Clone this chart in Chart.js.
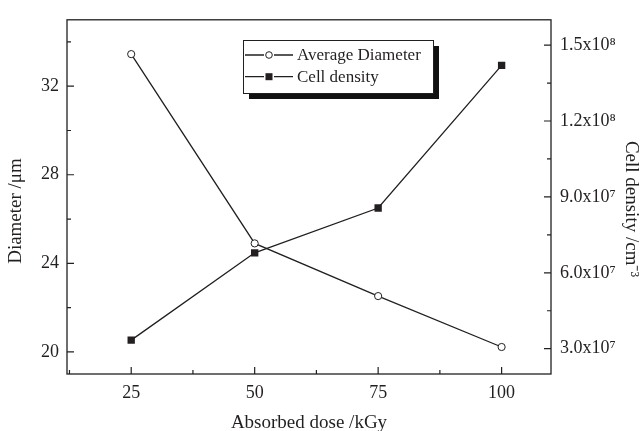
<!DOCTYPE html>
<html>
<head>
<meta charset="utf-8">
<script src="https://cdn.jsdelivr.net/npm/chart.js@4"></script>
<style>
  body { margin: 0; background: #fff; }
</style>
</head>
<body>
<canvas id="chart" width="643" height="431"></canvas>
<script>
// values
const doses = [25, 50, 75, 100];
const diameter = [33.45, 24.9, 22.52, 20.22];
const cellDensity = [3.34e7, 6.79e7, 8.56e7, 1.42e8];

// labelled ticks
const xTicks = [25, 50, 75, 100];
const leftTicks = [20, 24, 28, 32];
const rightTicks = [3e7, 6e7, 9e7, 1.2e8, 1.5e8];
const rightTickLabels = ["3.0x10⁷", "6.0x10⁷", "9.0x10⁷", "1.2x10⁸", "1.5x10⁸"];

const ink = "#231f20";
const serif = "'Liberation Serif', 'Times New Roman', serif";

Chart.defaults.font.family = serif;
Chart.defaults.font.size = 18;
Chart.defaults.color = ink;

// labelled ticks plus a minor tick halfway between each
function withMinor(major, min, max) {
  const step = major[1] - major[0];
  let out = [];
  for (let v = major[0] - step / 2; v <= major[major.length - 1] + step / 2 + 1e-9; v += step / 2) {
    if (v >= min && v <= max) out.push(v);
  }
  return out;
}

function isMajor(list, v) {
  return list.some((m) => Math.abs(m - v) < Math.abs(m) * 1e-6 + 1e-9);
}

// box round the plot, inward ticks
const framePlugin = {
  id: "frame",
  afterDatasetsDraw(chart) {
    const { ctx, chartArea: a } = chart;
    ctx.save();
    ctx.strokeStyle = ink;
    ctx.lineWidth = 1.3;
    ctx.strokeRect(a.left, a.top, a.right - a.left, a.bottom - a.top);

    ctx.lineWidth = 1.2;
    ctx.beginPath();
    chart.scales.x.ticks.forEach((t) => {
      const px = chart.scales.x.getPixelForValue(t.value);
      const len = isMajor(xTicks, t.value) ? 7 : 4;
      ctx.moveTo(px, a.bottom);
      ctx.lineTo(px, a.bottom - len);
    });
    chart.scales.y.ticks.forEach((t) => {
      const py = chart.scales.y.getPixelForValue(t.value);
      const len = isMajor(leftTicks, t.value) ? 7 : 4;
      ctx.moveTo(a.left, py);
      ctx.lineTo(a.left + len, py);
    });
    chart.scales.y1.ticks.forEach((t) => {
      const py = chart.scales.y1.getPixelForValue(t.value);
      const len = isMajor(rightTicks, t.value) ? 7 : 4;
      ctx.moveTo(a.right, py);
      ctx.lineTo(a.right - len, py);
    });
    ctx.stroke();
    ctx.restore();
  },
};

// axis titles
const titlePlugin = {
  id: "titles",
  afterDraw(chart) {
    const { ctx, chartArea: a } = chart;
    ctx.save();
    ctx.fillStyle = ink;
    ctx.font = "19px " + serif;
    ctx.textAlign = "center";
    ctx.textBaseline = "middle";
    ctx.fillText("Absorbed dose /kGy", (a.left + a.right) / 2, 423);

    ctx.translate(16, 211);
    ctx.rotate(-Math.PI / 2);
    ctx.fillText("Diameter /μm", 0, 0);
    ctx.restore();

    ctx.save();
    ctx.fillStyle = ink;
    ctx.font = "19px " + serif;
    ctx.textAlign = "center";
    ctx.textBaseline = "middle";
    ctx.translate(631, 209);
    ctx.rotate(Math.PI / 2);
    ctx.fillText("Cell density /cm⁻³", 0, 0);
    ctx.restore();
  },
};

// legend box with a drop shadow
const legendPlugin = {
  id: "boxLegend",
  afterDraw(chart) {
    const { ctx } = chart;
    const x = 243, y = 40, w = 190, h = 53;
    ctx.save();
    ctx.fillStyle = "#111";
    ctx.fillRect(x + 6, y + 6, w, h);
    ctx.fillStyle = "#fff";
    ctx.fillRect(x, y, w, h);
    ctx.strokeStyle = ink;
    ctx.lineWidth = 1;
    ctx.strokeRect(x + 0.5, y + 0.5, w, h);

    ctx.font = "17px " + serif;
    ctx.textBaseline = "middle";
    chart.data.datasets.forEach((ds, i) => {
      const cy = 55 + i * 21.7;
      ctx.strokeStyle = ink;
      ctx.lineWidth = 1.3;
      ctx.beginPath();
      ctx.moveTo(245, cy);
      ctx.lineTo(264, cy);
      ctx.moveTo(274, cy);
      ctx.lineTo(293, cy);
      ctx.stroke();
      if (ds.pointStyle === "rect") {
        ctx.fillStyle = ink;
        ctx.fillRect(265.5, cy - 3.5, 7, 7);
      } else {
        ctx.fillStyle = "#fff";
        ctx.lineWidth = 1;
        ctx.beginPath();
        ctx.arc(269, cy, 3.3, 0, Math.PI * 2);
        ctx.fill();
        ctx.stroke();
      }
      ctx.fillStyle = ink;
      ctx.fillText(ds.label, 297, cy + 1);
    });
    ctx.restore();
  },
};

new Chart(document.getElementById("chart"), {
  type: "line",
  data: {
    datasets: [
      {
        label: "Average Diameter",
        data: doses.map((d, i) => ({ x: d, y: diameter[i] })),
        yAxisID: "y",
        borderColor: ink,
        borderWidth: 1.3,
        pointStyle: "circle",
        pointRadius: 3.6,
        pointBackgroundColor: "#fff",
        pointBorderColor: ink,
        pointBorderWidth: 1,
      },
      {
        label: "Cell density",
        data: doses.map((d, i) => ({ x: d, y: cellDensity[i] })),
        yAxisID: "y1",
        borderColor: ink,
        borderWidth: 1.3,
        pointStyle: "rect",
        pointRadius: 5.2,
        pointBackgroundColor: ink,
        pointBorderColor: ink,
        pointBorderWidth: 0,
      },
    ],
  },
  options: {
    responsive: false,
    animation: false,
    devicePixelRatio: 1,
    layout: { padding: { top: 14, left: 0, right: 0, bottom: 0 } },
    plugins: { legend: { display: false }, tooltip: { enabled: false } },
    scales: {
      x: {
        type: "linear",
        position: "bottom",
        min: 12,
        max: 110,
        afterBuildTicks: (s) => {
          s.ticks = withMinor(xTicks, 12, 110).map((v) => ({ value: v }));
        },
        afterFit: (s) => { s.height = 57; },
        grid: { display: false, drawTicks: false },
        border: { display: false },
        ticks: {
          padding: 8,
          maxRotation: 0,
          autoSkip: false,
          callback: (v) => (isMajor(xTicks, v) ? String(v) : ""),
        },
      },
      y: {
        position: "left",
        min: 19,
        max: 35,
        afterBuildTicks: (s) => {
          s.ticks = withMinor(leftTicks, 19, 35).map((v) => ({ value: v }));
        },
        afterFit: (s) => { s.width = 67; },
        grid: { display: false, drawTicks: false },
        border: { display: false },
        ticks: {
          padding: 8,
          autoSkip: false,
          callback: (v) => (isMajor(leftTicks, v) ? String(v) : ""),
        },
      },
      y1: {
        position: "right",
        min: 2e7,
        max: 1.6e8,
        afterBuildTicks: (s) => {
          s.ticks = withMinor(rightTicks, 2e7, 1.6e8).map((v) => ({ value: v }));
        },
        afterFit: (s) => { s.width = 92; },
        grid: { display: false, drawTicks: false },
        border: { display: false },
        ticks: {
          padding: 9,
          autoSkip: false,
          callback: (v) => {
            const i = rightTicks.findIndex((m) => Math.abs(m - v) < m * 1e-6);
            return i >= 0 ? rightTickLabels[i] : "";
          },
        },
      },
    },
  },
  plugins: [framePlugin, titlePlugin, legendPlugin],
});
</script>
</body>
</html>
